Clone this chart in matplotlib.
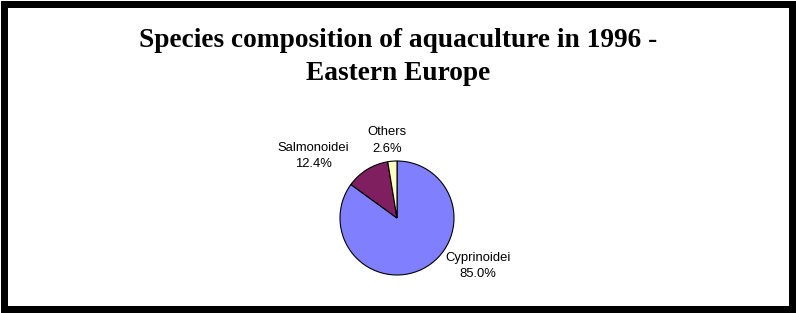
import matplotlib
matplotlib.use("Agg")
import matplotlib.pyplot as plt
from matplotlib.patches import Rectangle

categories = ["Cyprinoidei", "Salmonoidei", "Others"]
shares = [85.0, 12.4, 2.6]
colors = ["#8080FF", "#7F1F5F", "#FFFFC0"]
title = "Species composition of aquaculture in 1996 -\nEastern Europe"

W, H = 796, 313
fig = plt.figure(figsize=(W / 100, H / 100), dpi=100)
fig.patch.set_facecolor("white")

# pie axes: center (397, 218) px, radius 57 px
cx, cy, R = 397, 218, 57
ax = fig.add_axes([(cx - R) / W, 1 - (cy + R) / H, 2 * R / W, 2 * R / H])
wedges, texts = ax.pie(shares, colors=colors, startangle=90, counterclock=False,
                       labels=[f"{c}\n{v:.1f}%" for c, v in zip(categories, shares)],
                       wedgeprops=dict(edgecolor="black", linewidth=0.8),
                       textprops=dict(fontsize=9.4, family="Liberation Sans",
                                      ha="center", va="center", linespacing=1.45))
ax.set_xlim(-1, 1)
ax.set_ylim(-1, 1)
ax.set_aspect("equal")
ax.axis("off")

label_pos = [(1.42, -0.85), (-1.47, 1.08), (-0.17, 1.36)]
for t, p in zip(texts, label_pos):
    t.set_position(p)
    t.set_ha("center")
    t.set_va("center")
    t.set_clip_on(False)

fig.text(0.5, 1 - 57 / H, title, ha="center", va="center", fontsize=19.7,
         family="Liberation Serif", fontweight="bold", linespacing=1.42)

lw_px = 7
fig.patches.append(Rectangle((lw_px / 2 / W, (lw_px / 2 + 1) / H),
                             1 - (lw_px + 1) / W, 1 - (lw_px + 1) / H,
                             transform=fig.transFigure, fill=False,
                             edgecolor="black", linewidth=lw_px * 0.72))

fig.savefig("out.png", dpi=100, facecolor="white")
